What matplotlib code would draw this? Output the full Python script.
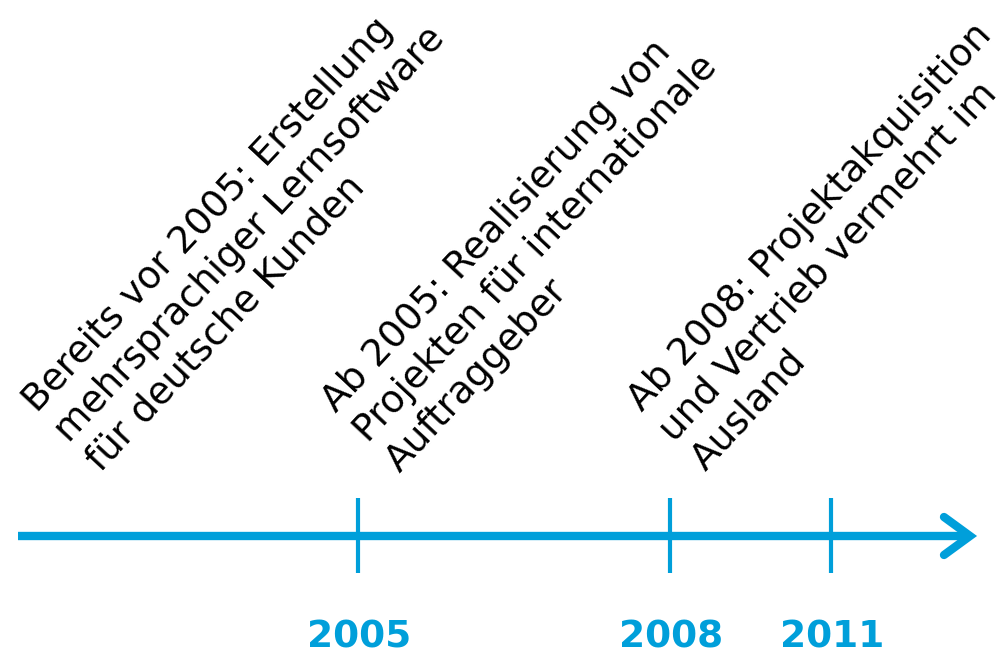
import matplotlib

matplotlib.use('Agg')
import matplotlib.pyplot as plt


BLUE = '#009fda'
FG = '#000000'

# timeline content
years = ['2005', '2008', '2011']
milestones = [
    'Bereits vor 2005: Erstellung\nmehrsprachiger Lernsoftware\nfür deutsche Kunden',
    'Ab 2005: Realisierung von\nProjekten für internationale\nAuftraggeber',
    'Ab 2008: Projektakquisition\nund Vertrieb vermehrt im\nAusland',
]

# layout (pixel coordinates of the 1005x653 canvas)
tick_x = [358, 670, 831]
note_anchor = [(95, 468), (394, 468), (700, 467)]
axis_y = 536
axis_x0, axis_x1 = 18, 970


def main() -> None:
    fig = plt.figure(figsize=(10.05, 6.53), dpi=100)
    ax = fig.add_axes([0, 0, 1, 1])
    ax.set_xlim(0, 1005)
    ax.set_ylim(653, 0)
    ax.axis('off')

    # main arrow
    ax.plot([axis_x0, axis_x1], [axis_y, axis_y], color=BLUE, linewidth=6, solid_capstyle='butt')
    ax.plot([axis_x1 - 26, axis_x1, axis_x1 - 26], [axis_y - 19, axis_y, axis_y + 19],
            color=BLUE, linewidth=6, solid_capstyle='round', solid_joinstyle='miter')

    for x, year in zip(tick_x, years):
        ax.plot([x, x], [axis_y - 38, axis_y + 37], color=BLUE, linewidth=3, solid_capstyle='butt')
        ax.text(x + 1, 647, year, color=BLUE, fontsize=27, fontweight='bold',
                ha='center', va='baseline')

    for (x, y), note in zip(note_anchor, milestones):
        ax.text(x, y, note, color=FG, fontsize=27, rotation=47, rotation_mode='anchor',
                ha='left', va='baseline', multialignment='left', linespacing=1.27)

    fig.savefig('out.png', dpi=100, facecolor='white')
    plt.close(fig)


if __name__ == '__main__':
    main()
